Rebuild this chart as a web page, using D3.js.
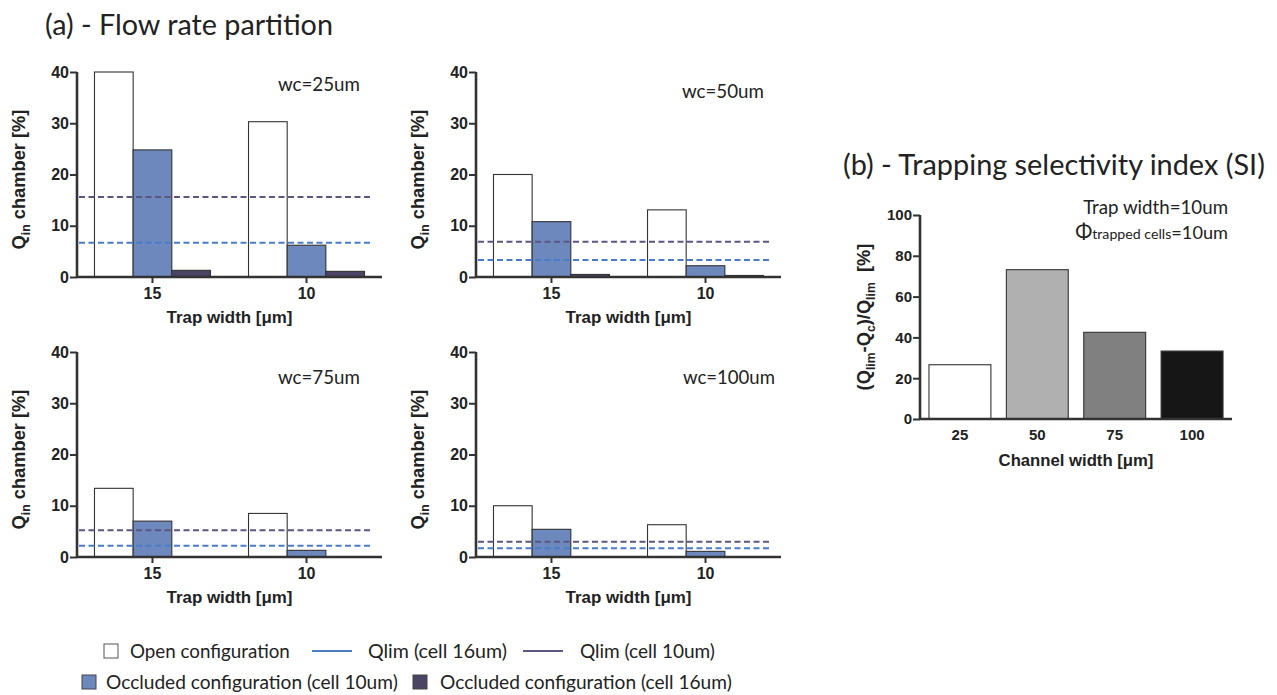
<!DOCTYPE html>
<html><head><meta charset="utf-8">
<script src="https://cdn.jsdelivr.net/npm/d3@7"></script>
<style>body{margin:0;background:#fff} svg{display:block}</style>
</head><body><svg id="c" width="1277" height="695"></svg>
<script>
// ---------- DATA ----------
const trapWidths = ["15", "10"];
const seriesKeys = ["open", "occ10", "occ16"];
const panelLabels = ["wc=25um", "wc=50um", "wc=75um", "wc=100um"];
const openValues = [[40, 30.3], [20, 13.1], [13.4, 8.5], [10, 6.3]];
const occluded10Values = [[24.8, 6.2], [10.8, 2.2], [7.0, 1.3], [5.4, 1.1]];
const occluded16Values = [[1.3, 1.1], [0.5, 0.3], [0, 0], [0, 0]];
const qlim16Values = [6.7, 3.3, 2.2, 1.7];
const qlim10Values = [15.6, 6.9, 5.2, 3.0];
const yTicksA = [0, 10, 20, 30, 40];
const channelWidths = ["25", "50", "75", "100"];
const siValues = [26.6, 73.2, 42.5, 33.3];
const yTicksB = [0, 20, 40, 60, 80, 100];
const legendRow1 = ["Open configuration", "Qlim (cell 16um)", "Qlim (cell 10um)"];
const legendRow2 = ["Occluded configuration (cell 10um)", "Occluded configuration (cell 16um)"];

// ---------- STYLE / LAYOUT ----------
const C = {
  open: "#ffffff", occ10: "#6d88bd", occ16: "#4b4563",
  q16: "#4a7cc8", q10: "#5d5482", axis: "#333333", text: "#222222"
};
const siColors = ["#ffffff", "#b0b0b0", "#808080", "#161616"];
const sans = "Lato, 'Open Sans', sans-serif";
const bold = "'Liberation Sans', Arial, sans-serif";

const svg = d3.select("#c");

// scale a text element (and its tspans) so that its length equals w
function fit(sel, w) {
  const n = sel.node();
  const L = n.getBBox().width;
  if (!L) return sel;
  const k = w / L;
  const all = [n, ...n.querySelectorAll("tspan")];
  all.forEach(e => {
    const fs = e.getAttribute("font-size");
    if (fs) e.setAttribute("font-size", +fs * k);
    const dy = e.getAttribute("dy");
    if (dy) e.setAttribute("dy", +dy * k);
  });
  return sel;
}

const panels = [
  {x0: 77, top: 72, bot: 277, labX: 278, labY: 91, labW: 82},
  {x0: 476, top: 72, bot: 277, labX: 682, labY: 98, labW: 82},
  {x0: 77, top: 352, bot: 557, labX: 278, labY: 384, labW: 82},
  {x0: 476, top: 352, bot: 557, labX: 683, labY: 384, labW: 92}
];
const panelW = 305;

fit(svg.append("text").attr("x", 45).attr("y", 35).attr("font-family", sans)
  .attr("font-size", 26).attr("fill", C.text).text("(a) - Flow rate partition"), 288);

panels.forEach((p, i) => {
  const g = svg.append("g");
  const x = d3.scaleBand().domain(trapWidths).range([p.x0, p.x0 + panelW])
    .paddingInner(0.247).paddingOuter(0.1135);
  const xs = d3.scaleBand().domain(seriesKeys).range([0, x.bandwidth()]);
  const y = d3.scaleLinear().domain([0, 40]).range([p.bot, p.top]);

  const rows = trapWidths.map((t, j) => ({
    t, vals: [
      {k: "open", v: openValues[i][j]},
      {k: "occ10", v: occluded10Values[i][j]},
      {k: "occ16", v: occluded16Values[i][j]}
    ]
  }));
  g.selectAll("g.grp").data(rows).join("g")
    .attr("transform", d => `translate(${x(d.t)},0)`)
    .selectAll("rect").data(d => d.vals.filter(v => v.v > 0)).join("rect")
    .attr("x", d => xs(d.k)).attr("width", xs.bandwidth())
    .attr("y", d => y(d.v)).attr("height", d => y(0) - y(d.v))
    .attr("fill", d => C[d.k]).attr("stroke", C.axis).attr("stroke-width", 1.1);

  const lines = [{v: qlim10Values[i], c: C.q10}, {v: qlim16Values[i], c: C.q16}];
  g.selectAll("line.ref").data(lines).join("line")
    .attr("x1", p.x0 + 2).attr("x2", p.x0 + 293)
    .attr("y1", d => y(d.v)).attr("y2", d => y(d.v))
    .attr("stroke", d => d.c).attr("stroke-width", 2).attr("stroke-dasharray", "6,3.5");

  const ya = g.append("g").attr("transform", `translate(${p.x0},0)`)
    .call(d3.axisLeft(y).tickValues(yTicksA).tickSize(7).tickPadding(1));
  const xa = g.append("g").attr("transform", `translate(0,${p.bot})`)
    .call(d3.axisBottom(x).tickSize(6).tickPadding(5));
  [ya, xa].forEach(a => {
    a.select(".domain").attr("stroke", C.axis).attr("stroke-width", 2.6);
    a.selectAll(".tick line").attr("stroke", C.axis).attr("stroke-width", 2);
    a.selectAll("text").attr("font-family", bold).attr("font-weight", "bold")
      .attr("font-size", 16).attr("fill", C.text);
  });
  xa.select(".domain").attr("d", `M${p.x0},0H${p.x0 + panelW}`);
  ya.select(".domain").attr("d", `M0,${p.top}V${p.bot}`);

  fit(g.append("text").attr("x", p.x0 + panelW / 2).attr("y", p.bot + 46)
    .attr("text-anchor", "middle").attr("font-family", bold).attr("font-weight", "bold")
    .attr("font-size", 15).attr("fill", C.text).text("Trap width [μm]"), 126);

  const yl = g.append("text").attr("transform", `translate(${p.x0 - 52},${(p.top + p.bot) / 2 + 5}) rotate(-90)`)
    .attr("text-anchor", "middle").attr("font-family", bold).attr("font-weight", "bold")
    .attr("font-size", 15).attr("fill", C.text);
  yl.append("tspan").text("Q");
  yl.append("tspan").attr("font-size", 10).attr("dy", 4).text("in");
  yl.append("tspan").attr("dy", -4).text(" chamber [%]");
  fit(yl, 140);

  fit(g.append("text").attr("x", p.labX).attr("y", p.labY).attr("font-family", sans)
    .attr("font-size", 16).attr("fill", C.text).text(panelLabels[i]), p.labW);
});

// ---------- PANEL B ----------
const b = {x0: 920, x1: 1232, top: 215, bot: 419};
fit(svg.append("text").attr("x", 843).attr("y", 175).attr("font-family", sans)
  .attr("font-size", 26).attr("fill", C.text).text("(b) - Trapping selectivity index (SI)"), 422);

const gb = svg.append("g");
const xb = d3.scaleBand().domain(channelWidths).range([b.x0, b.x1]).paddingInner(0.2).paddingOuter(0.116);
const yb = d3.scaleLinear().domain([0, 100]).range([b.bot, b.top]);
gb.selectAll("rect").data(channelWidths.map((c, i) => ({c, v: siValues[i], i}))).join("rect")
  .attr("x", d => xb(d.c)).attr("width", xb.bandwidth())
  .attr("y", d => yb(d.v)).attr("height", d => yb(0) - yb(d.v))
  .attr("fill", d => siColors[d.i]).attr("stroke", C.axis).attr("stroke-width", 1.1);

const yab = gb.append("g").attr("transform", `translate(${b.x0},0)`)
  .call(d3.axisLeft(yb).tickValues(yTicksB).tickSize(7).tickPadding(1));
const xab = gb.append("g").attr("transform", `translate(0,${b.bot})`)
  .call(d3.axisBottom(xb).tickSize(0).tickPadding(10));
[yab, xab].forEach(a => {
  a.select(".domain").attr("stroke", C.axis).attr("stroke-width", 2.6);
  a.selectAll(".tick line").attr("stroke", C.axis).attr("stroke-width", 2);
  a.selectAll("text").attr("font-family", bold).attr("font-weight", "bold")
    .attr("font-size", 15).attr("fill", C.text);
});
xab.select(".domain").attr("d", `M${b.x0},0H${b.x1}`);
yab.select(".domain").attr("d", `M0,${b.top}V${b.bot}`);

fit(gb.append("text").attr("x", 1076).attr("y", 466).attr("text-anchor", "middle")
  .attr("font-family", bold).attr("font-weight", "bold").attr("font-size", 15)
  .attr("fill", C.text).text("Channel width [μm]"), 155);

const ylb = gb.append("text").attr("transform", `translate(870,317) rotate(-90)`)
  .attr("text-anchor", "middle").attr("font-family", bold).attr("font-weight", "bold")
  .attr("font-size", 15).attr("fill", C.text);
ylb.append("tspan").text("(Q");
ylb.append("tspan").attr("font-size", 10).attr("dy", 4).text("lim");
ylb.append("tspan").attr("dy", -4).text("-Q");
ylb.append("tspan").attr("font-size", 10).attr("dy", 4).text("c");
ylb.append("tspan").attr("dy", -4).text(")/Q");
ylb.append("tspan").attr("font-size", 10).attr("dy", 4).text("lim");
ylb.append("tspan").attr("dy", -4).text("\u00a0\u00a0[%]");
fit(ylb, 147);

fit(gb.append("text").attr("x", 1228).attr("y", 214).attr("text-anchor", "end")
  .attr("font-family", sans).attr("font-size", 16).attr("fill", C.text).text("Trap width=10um"), 145);
const phi = gb.append("text").attr("x", 1228).attr("y", 239).attr("text-anchor", "end")
  .attr("font-family", sans).attr("font-size", 16).attr("fill", C.text);
phi.append("tspan").attr("font-size", 18).text("Φ");
phi.append("tspan").attr("font-size", 12.5).text("trapped cells");
phi.append("tspan").attr("font-size", 16).text("=10um");
fit(phi, 153);

// ---------- LEGEND ----------
const lg = svg.append("g").attr("font-family", sans).attr("fill", C.text);
const r1 = [
  {type: "box", fill: C.open, x: 104, tx: 130, w: 160},
  {type: "line", stroke: C.q16, x: 312, tx: 368, w: 139},
  {type: "line", stroke: C.q10, x: 523, tx: 580, w: 135}
];
r1.forEach((it, i) => {
  if (it.type === "box") lg.append("rect").attr("x", it.x).attr("y", 644).attr("width", 14).attr("height", 14)
    .attr("fill", it.fill).attr("stroke", "#555").attr("stroke-width", 1);
  else lg.append("line").attr("x1", it.x).attr("x2", it.x + 40).attr("y1", 651).attr("y2", 651)
    .attr("stroke", it.stroke).attr("stroke-width", 2);
  fit(lg.append("text").attr("x", it.tx).attr("y", 658).attr("font-size", 17).text(legendRow1[i]), it.w);
});
const r2 = [
  {fill: C.occ10, x: 82, tx: 106, w: 292},
  {fill: C.occ16, x: 413, tx: 440, w: 292}
];
r2.forEach((it, i) => {
  lg.append("rect").attr("x", it.x).attr("y", 675).attr("width", 14).attr("height", 14)
    .attr("fill", it.fill).attr("stroke", "#444").attr("stroke-width", 1);
  fit(lg.append("text").attr("x", it.tx).attr("y", 689).attr("font-size", 17).text(legendRow2[i]), it.w);
});
</script>
</body></html>
